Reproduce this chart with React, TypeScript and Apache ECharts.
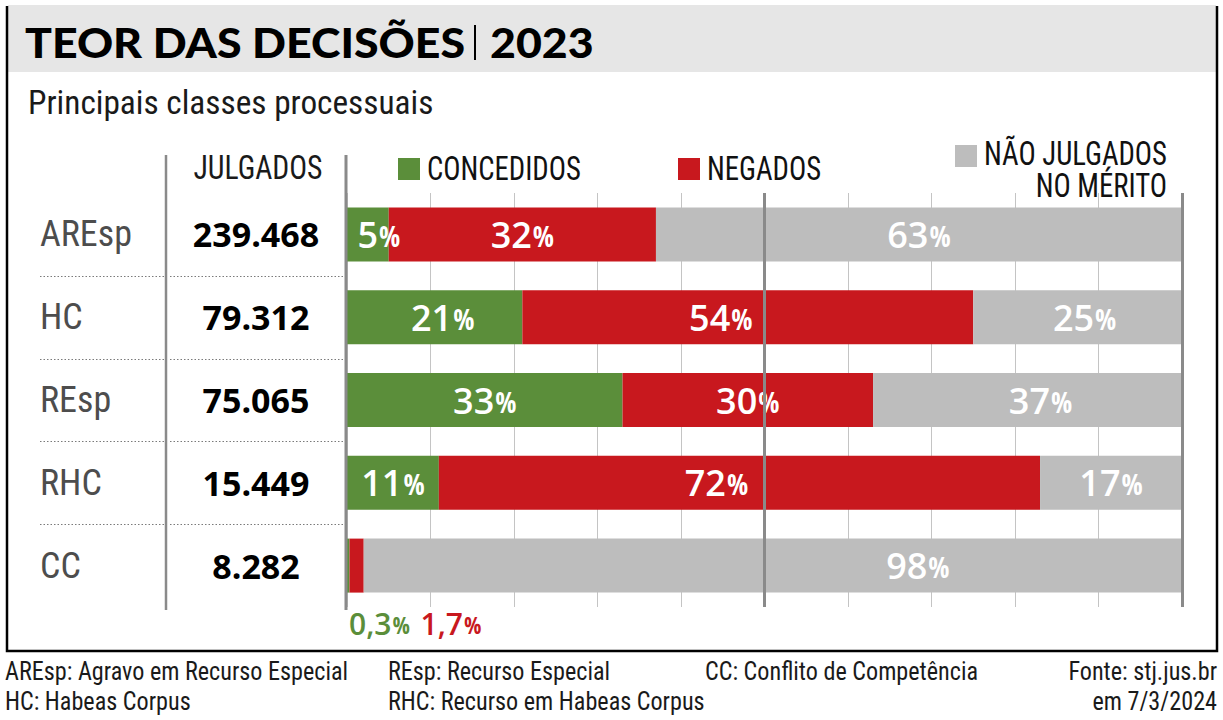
import React, { useEffect, useRef } from "react";
import * as echarts from "echarts";

// Classes processuais e resultado dos julgamentos em 2023 (%)
const categories = ["AREsp", "HC", "REsp", "RHC", "CC"];
const julgados = [239468, 79312, 75065, 15449, 8282];
const concedidos = [5, 21, 33, 11, 0.3];
const negados = [32, 54, 30, 72, 1.7];
const naoJulgados = [63, 25, 37, 17, 98];
const xTicks = [0, 10, 20, 30, 40, 50, 60, 70, 80, 90, 100];

const COND = '"Roboto Condensed", "Open Sans Condensed", sans-serif';
const COND_B = '"Open Sans Condensed", "Roboto Condensed", sans-serif';
const SANS = '"Open Sans", "Noto Sans", sans-serif';
const GREEN = "#5b8e3a";
const RED = "#c8181e";
const GRAY = "#bdbdbd";

const W = 1223;
const H = 720;
const GRID_LEFT = 347;
const GRID_RIGHT_X = 1182;
const GRID_TOP = 193;
const GRID_H = 414;

// horizontal nudges of a few in-bar labels (kept clear of the 50% line)
const greenShift: Record<number, number> = { 0: 11, 1: 8 };
const redShift: Record<number, number> = { 1: -27, 3: -23 };
const grayShift: Record<number, number> = { 1: 7, 2: 13, 4: 145 };

function fmtThousands(n: number): string {
  return String(n).replace(/\B(?=(\d{3})+(?!\d))/g, ".");
}
function fmtPct(v: number): string {
  return String(v).replace(".", ",");
}

function pctRich(color: string, size: number) {
  return {
    n: { color, fontFamily: SANS, fontWeight: 600, fontSize: size },
    p: { color, fontFamily: COND_B, fontWeight: 700, fontSize: Math.round(size * 0.78), padding: [3, 0, 0, 1] },
  };
}

function insideLabel(extra?: any) {
  return {
    show: true,
    position: "inside",
    formatter: (p: any) => `{n|${fmtPct(p.value)}}{p|%}`,
    rich: pctRich("#fff", 36),
    ...(extra || {}),
  };
}

function belowLabel(color: string, dx: number) {
  return {
    show: true,
    position: [dx, 85],
    align: "left",
    verticalAlign: "middle",
    formatter: (p: any) => `{n|${fmtPct(p.value)}}{p|%}`,
    rich: pctRich(color, 30),
  };
}

export default function App() {
  const ref = useRef<HTMLDivElement>(null);
  useEffect(() => {
    const chart = echarts.init(ref.current!, undefined, { renderer: "svg" });
    const pitch = GRID_H / categories.length;
    const last = categories.length - 1;

    const build = (vals: number[], shift: Record<number, number>, below?: any) =>
      vals.map((v, i) => {
        if (below && i === last) return { value: v, label: below };
        if (shift[i]) return { value: v, label: insideLabel({ offset: [shift[i], 0] }) };
        return v;
      });

    const greenData = build(concedidos, greenShift, belowLabel(GREEN, 2));
    const redData = build(negados, redShift, belowLabel(RED, 71));
    const grayData = build(naoJulgados, grayShift);

    const sepLines: any[] = [];
    for (let k = 1; k < categories.length; k++) {
      const y = Math.round(GRID_TOP + pitch * k) + 0.5;
      [
        [40, 164],
        [170, 343],
      ].forEach(([x1, x2]) =>
        sepLines.push({
          type: "line",
          shape: { x1, y1: y, x2, y2: y },
          style: { stroke: "#7a7a7a", lineWidth: 1, lineDash: [1.5, 2] },
        })
      );
    }

    const legendFont = `400 33px ${COND}`;
    const legendScale = 0.87;
    const legendText = (text: string, x: number, y: number, align: string) => ({
      type: "text",
      x,
      y,
      scaleX: legendScale,
      style: { text, font: legendFont, fill: "#111", align, verticalAlign: "middle" },
    });

    const titleStyle = (text: string) => ({
      text,
      font: `900 42px Lato, "Open Sans", sans-serif`,
      fill: "#000",
      letterSpacing: 1.5,
      verticalAlign: "middle",
    });

    chart.setOption({
      animation: false,
      grid: {
        left: GRID_LEFT,
        right: W - GRID_RIGHT_X,
        top: GRID_TOP,
        height: GRID_H,
        containLabel: false,
      },
      xAxis: {
        type: "value",
        min: xTicks[0],
        max: xTicks[xTicks.length - 1],
        interval: xTicks[1] - xTicks[0],
        axisLine: { show: false },
        axisTick: { show: false },
        axisLabel: { show: false },
        splitLine: { show: true, lineStyle: { color: "#c4c4c4", width: 1 } },
      },
      yAxis: [
        {
          type: "category",
          data: categories,
          inverse: true,
          axisLine: { show: false },
          axisTick: { show: false },
          splitLine: { show: false },
          axisLabel: {
            align: "left",
            margin: GRID_LEFT - 40,
            fontFamily: COND,
            fontWeight: 400,
            fontSize: 36,
            color: "#4d4d4d",
          },
        },
        {
          type: "category",
          data: categories,
          inverse: true,
          position: "left",
          axisLine: { show: false },
          axisTick: { show: false },
          splitLine: { show: false },
          axisLabel: {
            align: "center",
            margin: GRID_LEFT - 256,
            fontFamily: SANS,
            fontWeight: 700,
            fontSize: 34,
            color: "#000",
            formatter: (_v: string, idx: number) => fmtThousands(julgados[idx]),
          },
        },
      ],
      series: [
        {
          name: "CONCEDIDOS",
          type: "bar",
          stack: "total",
          barWidth: 54,
          itemStyle: { color: GREEN },
          label: insideLabel(),
          data: greenData,
        },
        {
          name: "NEGADOS",
          type: "bar",
          stack: "total",
          barWidth: 54,
          itemStyle: { color: RED },
          label: insideLabel(),
          data: redData,
        },
        {
          name: "NÃO JULGADOS NO MÉRITO",
          type: "bar",
          stack: "total",
          barWidth: 54,
          itemStyle: { color: GRAY },
          label: insideLabel(),
          data: grayData,
          markLine: {
            silent: true,
            symbol: "none",
            label: { show: false },
            lineStyle: { color: "#8a8a8a", width: 3, type: "solid" },
            data: [{ xAxis: 50 }, { xAxis: 100 }],
            z: 10,
          },
        },
      ],
      graphic: [
        // moldura
        {
          type: "polyline",
          shape: { points: [[7, 6], [7, 651], [1217, 651], [1217, 6]] },
          style: { stroke: "#000", lineWidth: 2.5, fill: "none" },
          z: 100,
        },
        {
          type: "rect",
          shape: { x: 8, y: 5, width: 1208, height: 67 },
          style: { fill: "#e6e6e6" },
          z: 0,
        },
        // título
        { type: "text", x: 25, y: 42, scaleX: 1.063, style: titleStyle("TEOR DAS DECISÕES"), z: 5 },
        {
          type: "line",
          shape: { x1: 475, y1: 25, x2: 475, y2: 60 },
          style: { stroke: "#000", lineWidth: 2 },
          z: 5,
        },
        { type: "text", x: 490, y: 42, scaleX: 1.063, style: titleStyle("2023"), z: 5 },
        {
          type: "text",
          x: 28,
          y: 102,
          scaleX: 0.98,
          style: {
            text: "Principais classes processuais",
            font: `400 34px ${COND}`,
            fill: "#1a1a1a",
            verticalAlign: "middle",
          },
        },
        // cabeçalho da coluna e divisórias
        {
          type: "text",
          x: 258,
          y: 168,
          scaleX: 0.9,
          style: {
            text: "JULGADOS",
            font: legendFont,
            fill: "#1a1a1a",
            align: "center",
            verticalAlign: "middle",
          },
        },
        {
          type: "line",
          shape: { x1: 166, y1: 155, x2: 166, y2: 610 },
          style: { stroke: "#8a8a8a", lineWidth: 2.5 },
        },
        {
          type: "line",
          shape: { x1: 346, y1: 155, x2: 346, y2: 610 },
          style: { stroke: "#8a8a8a", lineWidth: 3 },
          z: 50,
        },
        ...sepLines,
        // legenda
        { type: "rect", shape: { x: 398, y: 158, width: 22, height: 22 }, style: { fill: GREEN } },
        legendText("CONCEDIDOS", 427, 169, "left"),
        { type: "rect", shape: { x: 678, y: 158, width: 22, height: 22 }, style: { fill: RED } },
        legendText("NEGADOS", 707, 169, "left"),
        { type: "rect", shape: { x: 955, y: 145, width: 22, height: 22 }, style: { fill: GRAY } },
        legendText("NÃO JULGADOS", 1167, 154, "right"),
        legendText("NO MÉRITO", 1167, 186, "right"),
        // rodapé
        ...[
          { x: 5, y: 671, t: "AREsp: Agravo em Recurso Especial", a: "left" },
          { x: 5, y: 701, t: "HC: Habeas Corpus", a: "left" },
          { x: 388, y: 671, t: "REsp: Recurso Especial", a: "left" },
          { x: 388, y: 701, t: "RHC: Recurso em Habeas Corpus", a: "left" },
          { x: 705, y: 671, t: "CC: Conflito de Competência", a: "left" },
          { x: 1217, y: 671, t: "Fonte: stj.jus.br", a: "right" },
          { x: 1217, y: 701, t: "em 7/3/2024", a: "right" },
        ].map((f) => ({
          type: "text",
          x: f.x,
          y: f.y,
          scaleX: 0.93,
          style: { text: f.t, font: `400 26px ${COND}`, fill: "#1a1a1a", align: f.a, verticalAlign: "middle" },
        })),
      ],
    });
    return () => chart.dispose();
  }, []);
  return <div ref={ref} style={{ position: "absolute", left: 0, top: 0, width: W, height: H }} />;
}
